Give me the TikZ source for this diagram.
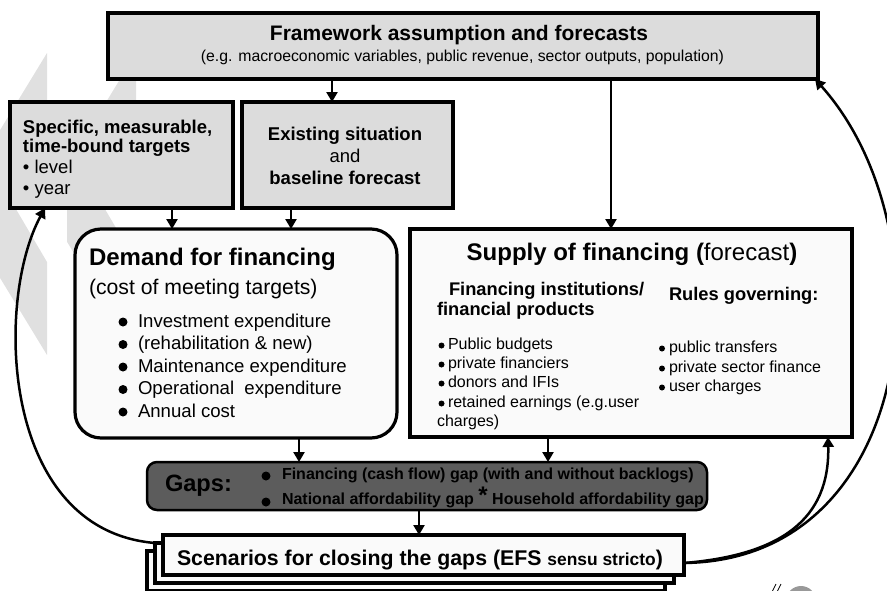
\documentclass[tikz,border=0pt]{standalone}
\usepackage{fontspec}
\setmainfont{Liberation Sans}
\usetikzlibrary{arrows.meta,calc}
\definecolor{boxgray}{HTML}{DCDCDC}
\definecolor{lightfill}{HTML}{FAFAFA}
\definecolor{gapfill}{HTML}{5C5C5C}
\definecolor{wmgray}{HTML}{E0E0E0}
\newcommand\fsz[1]{\fontsize{#1}{#1}\selectfont}
\tikzset{
  t/.style={inner sep=0pt, outer sep=0pt},
  graybox/.style={draw, line width=3.2pt, fill=boxgray, inner sep=0pt, outer sep=0pt},
  whitebox/.style={draw, line width=3.2pt, fill=lightfill, inner sep=0pt, outer sep=0pt},
  gapbox/.style={draw, line width=2.5pt, fill=gapfill, rounded corners=10pt, inner sep=0pt, outer sep=0pt},
  arr/.style={line width=2.5pt, -{Triangle[width=11pt,length=10pt]}},
  dot/.style={fill=black}
}
\begin{document}
\begin{tikzpicture}[x=1pt,y=-1pt]
\useasboundingbox (0,0) rectangle (887,590);
% watermark
\begin{scope}
\clip (0,0) rectangle (887,590);
\fill[wmgray] (47,53) -- (-45,204) -- (47,355) -- (47,262) -- (13,204) -- (47,146) -- cycle;
\begin{scope}
\clip (67,0) rectangle (200,590);
\fill[wmgray] (136,53) -- (44,204) -- (136,355) -- (136,262) -- (102,204) -- (136,146) -- cycle;
\end{scope}
\fill[gray!80] (801,601) circle (15);
\draw[line width=0.8pt] (772,592) -- (776,584) (777,592) -- (781,584);
\end{scope}

% boxes
\node[graybox, minimum width=710pt, minimum height=66pt] (fw) at (463,46) {};
\node[graybox, minimum width=223pt, minimum height=106pt] (tg) at (121.5,155) {};
\node[graybox, minimum width=211pt, minimum height=106pt] (ex) at (347.5,155) {};
\node[whitebox, rounded corners=26pt, minimum width=322pt, minimum height=209pt] (dm) at (236,333.5) {};
\node[whitebox, minimum width=442pt, minimum height=208pt] (sp) at (631,333) {};
\node[gapbox, minimum width=560pt, minimum height=48pt] (gp) at (427,486) {};
\node[whitebox, minimum width=518pt, minimum height=40pt] (sc3) at (406,571) {};
\node[whitebox, minimum width=519pt, minimum height=40pt] (sc2) at (414.5,563) {};
\node[whitebox, minimum width=521pt, minimum height=40pt] (sc1) at (423.5,555) {};

% framework text
\node[t, anchor=base] (fwt) at (459,40.5) {\fsz{21}\bfseries Framework assumption and forecasts};
\node[t, anchor=base] (fws) at (462.5,61) {\fsz{15.8}(e.g. macroeconomic variables, public revenue, sector outputs, population)};

% targets text
\node[t, anchor=base west] (tg1) at (23,133) {\fsz{18.5}\bfseries Specific, measurable,};
\node[t, anchor=base west] (tg2) at (23,152.5) {\fsz{18.5}\bfseries time-bound targets};
\node[t, anchor=base west] (tg3) at (23,173.5) {\fsz{18.5}• level};
\node[t, anchor=base west] (tg4) at (23,194) {\fsz{18.5}• year};

% existing text
\node[t, anchor=base] (ex1) at (345,140) {\fsz{18.5}\bfseries Existing situation};
\node[t, anchor=base] (ex2) at (345,162) {\fsz{18.5}and};
\node[t, anchor=base] (ex3) at (345,184) {\fsz{18.5}\bfseries baseline forecast};

% demand text
\node[t, anchor=base west] (dm1) at (89,265.5) {\fsz{24}\bfseries Demand for financing};
\node[t, anchor=base west] (dm2) at (89,294) {\fsz{21.2}(cost of meeting targets)};
\node[t, anchor=base west] (dm3) at (138,327) {\fsz{18.6}Investment expenditure};
\node[t, anchor=base west] (dm4) at (138,349.5) {\fsz{18.6}(rehabilitation \& new)};
\node[t, anchor=base west] (dm5) at (138,372) {\fsz{18.6}Maintenance expenditure};
\node[t, anchor=base west] (dm6) at (138,394.5) {\fsz{18.6}Operational~ expenditure};
\node[t, anchor=base west] (dm7) at (138,417) {\fsz{18.6}Annual cost};
\foreach \yy in {327,349.5,372,394.5,417}{\fill[dot] (123,\yy-5) circle (4.5);}

% supply text
\node[t, anchor=base] (sp1) at (632,260) {\fsz{24}\bfseries Supply of financing (\mdseries forecast\bfseries)};
\node[t, anchor=base west] (sp2) at (449,295) {\fsz{18.3}\bfseries Financing institutions/};
\node[t, anchor=base west] (sp3) at (437,315) {\fsz{18.3}\bfseries financial products};
\node[t, anchor=base west] (sp4) at (669,300) {\fsz{18.3}\bfseries Rules governing:};
\node[t, anchor=base west] (sp5) at (448,349) {\fsz{16}Public budgets};
\node[t, anchor=base west] (sp6) at (448,368) {\fsz{16}private financiers};
\node[t, anchor=base west] (sp7) at (448,387) {\fsz{16}donors and IFIs};
\node[t, anchor=base west] (sp8) at (448,407) {\fsz{16}retained earnings (e.g.user};
\node[t, anchor=base west] (sp9) at (437,426) {\fsz{16}charges)};
\foreach \yy in {349,368,387,407}{\fill[dot] (441.5,\yy-3.5) circle (3);}
\node[t, anchor=base west] (sp10) at (669,352) {\fsz{16}public transfers};
\node[t, anchor=base west] (sp11) at (669,372) {\fsz{16}private sector finance};
\node[t, anchor=base west] (sp12) at (669,391) {\fsz{16}user charges};
\foreach \yy in {352,372,391}{\fill[dot] (662,\yy-3.5) circle (3);}

% gaps text
\node[t, anchor=base west] (gp1) at (165,491) {\fsz{23.6}\bfseries Gaps:};
\node[t, anchor=base west] (gp2) at (282,479) {\fsz{16}\bfseries Financing (cash flow) gap (with and without backlogs)};
\node[t, anchor=base west] (gp3) at (282,504) {\fsz{16}\bfseries National affordability gap {\fsz{24}\raisebox{1pt}{*}} Household affordability gap};
\fill[dot] (266,476) circle (4.5);
\fill[dot] (266,502) circle (4.5);

% scenario text
\node[t, anchor=base west] (sc) at (177,565) {\fsz{21.3}\bfseries Scenarios for closing the gaps (EFS {\fsz{17.4}sensu stricto})};

% straight connectors
\coordinate (xa) at (332,0);
\coordinate (xb) at (172,0);
\coordinate (xc) at (291,0);
\coordinate (xd) at (611,0);
\coordinate (xe) at (299,0);
\coordinate (xf) at (548,0);
\coordinate (xg) at (419,0);
\coordinate (xh) at (45,0);
\coordinate (xi) at (828,0);
\draw[arr] (fw.south -| xa) -- (ex.north -| xa);
\draw[arr] (tg.south -| xb) -- (dm.north -| xb);
\draw[arr] (ex.south -| xc) -- (dm.north -| xc);
\draw[arr] (fw.south -| xd) -- (sp.north -| xd);
\draw[arr] (dm.south -| xe) -- (gp.north -| xe);
\draw[arr] (sp.south -| xf) -- (gp.north -| xf);
\draw[arr] (gp.south -| xg) -- (sc1.north -| xg);

% curved feedback connectors
\draw[arr] (sc2.north west) .. controls (0,530) and (-5,300) .. (tg.south -| xh);
\draw[arr] ($(sc1.east)+(0,8)$) .. controls (920,560) and (950,230) .. ($(fw.south east)+(-3,0)$);
\draw[arr] ($(sc1.east)+(0,8)$) .. controls (780,555) and (830,520) .. (sp.south -| xi);
\end{tikzpicture}
\end{document}
